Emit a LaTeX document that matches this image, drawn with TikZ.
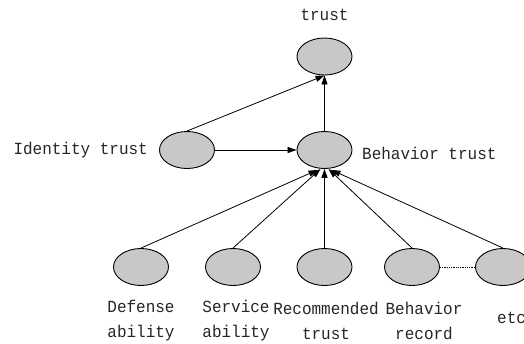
\documentclass[tikz,border=0pt]{standalone}
\usepackage{fontspec}
\usetikzlibrary{arrows.meta,shapes.geometric}
\newfontfamily\labfont[FakeStretch=0.94]{Liberation Mono}
\definecolor{nodegray}{RGB}{200,200,200}
\tikzset{
  ell/.style={draw=black, fill=nodegray, ellipse, minimum width=55pt, minimum height=37pt, inner sep=0pt, line width=0.9pt},
  lab/.style={font=\labfont\fontsize{17}{25}\selectfont, text=black!85, inner sep=0pt, align=center},
  conn/.style={line width=0.8pt, -{Triangle[length=9pt,width=6pt]}},
  plain/.style={line width=0.8pt}
}
\begin{document}
\begin{tikzpicture}[x=1pt,y=-1pt]
\useasboundingbox (0,0) rectangle (524,343);
\node[ell] (t) at (324.5,56.5) {};
\node[ell] (i) at (187,150) {};
\node[ell] (b) at (324.5,150) {};
\node[ell] (d) at (141,267) {};
\node[ell] (s) at (233,267) {};
\node[ell] (r) at (324.5,267) {};
\node[ell] (br) at (412,267) {};
\node[ell] (e) at (503,267) {};
\node[lab] (tl) at (324.5,15) {trust};
\node[lab, anchor=east] (il) at (148,150) {Identity trust};
\node[lab, anchor=west] (bl) at (362,153) {Behavior trust};
\node[lab] (dl) at (141,321) {Defense\\ability};
\node[lab] (sl) at (236,321) {Service\\ability};
\node[lab] (rl) at (326,321) {Recommended\\trust};
\node[lab] (bl2) at (424,321) {Behavior\\record};
\node[lab, anchor=west] (el) at (497,318) {etc};
\coordinate (bd) at ([xshift=-7pt,yshift=-1pt]b.south);
\coordinate (bs) at ([xshift=-4pt]b.south);
\coordinate (bb) at ([xshift=4pt]b.south);
\coordinate (be) at ([xshift=7pt,yshift=-1pt]b.south);
\draw[conn] (i.north) -- (t.south);
\draw[conn] (b) -- (t);
\draw[conn] (i) -- (b);
\draw[conn] (d.north) -- (bd);
\draw[conn] (s.north) -- (bs);
\draw[conn] (r) -- (b);
\draw[conn] (br.north) -- (bb);
\draw[conn] (e.north) -- (be);
\draw[plain, densely dotted] (br) -- (e);
\end{tikzpicture}
\end{document}
